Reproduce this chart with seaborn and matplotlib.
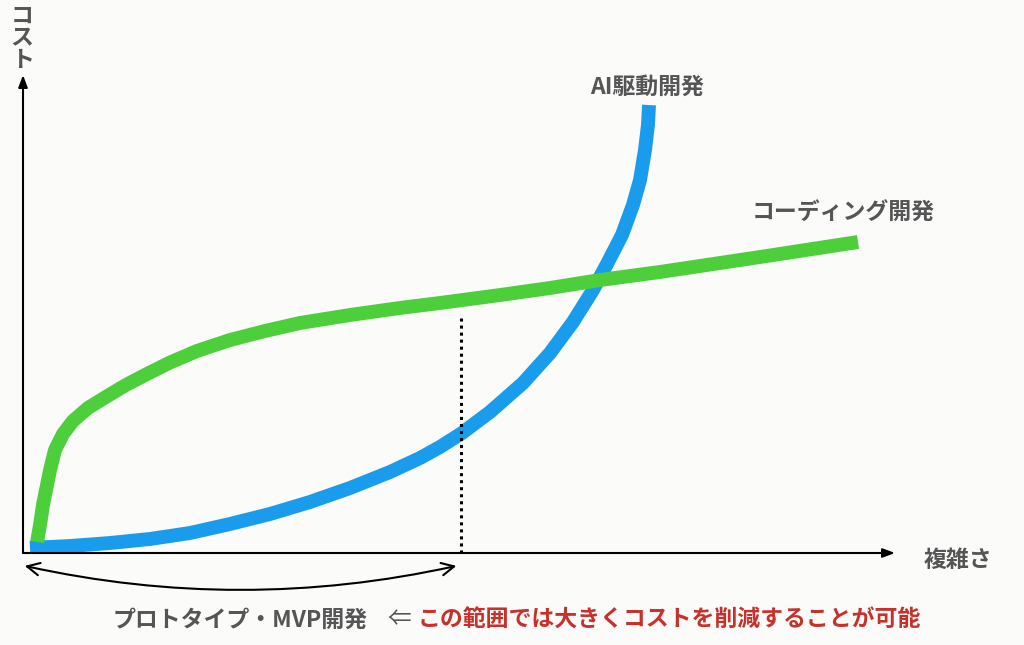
import matplotlib
matplotlib.use('Agg')

import seaborn as sns
import matplotlib.pyplot as plt

# complexity (x) / cost (y), axes run 0..100
ai_x = [0.80, 5.39, 9.98, 14.56, 19.15, 23.74, 28.33, 32.91, 37.50, 42.09,
        45.53, 47.82, 50.34, 53.56, 57.34, 60.44, 63.07, 65.37, 67.09, 68.69,
        69.95, 70.76, 71.33, 71.67, 71.79]
ai_y = [1.05, 1.46, 2.09, 2.93, 4.18, 6.07, 8.16, 10.67, 13.60, 16.95,
        19.87, 22.18, 25.10, 29.50, 35.56, 41.84, 48.33, 55.02, 60.88, 66.53,
        72.80, 78.03, 84.31, 89.54, 93.72]

coding_x = [1.61, 1.95, 2.29, 2.64, 3.10, 3.67, 4.59, 5.73, 7.45, 9.40,
            11.70, 14.22, 16.86, 19.95, 23.74, 27.75, 31.77, 37.50, 43.23,
            47.82, 54.70, 60.44, 66.17, 73.05, 84.52, 95.76]
coding_y = [2.30, 5.86, 10.04, 13.18, 17.36, 21.55, 24.90, 27.62, 30.33, 32.53,
            35.04, 37.45, 39.85, 42.26, 44.56, 46.44, 48.12, 49.79, 51.26,
            52.30, 53.97, 55.44, 57.11, 58.79, 61.92, 65.06]

ai_label = 'AI駆動開発'
coding_label = 'コーディング開発'
x_label = '複雑さ'
y_label = 'コスト'
range_label = 'プロトタイプ・MVP開発'
note_label = 'この範囲では大きくコストを削減することが可能'

mvp_limit = 50.2
mvp_top = 50.0

BLUE = '#1a9cec'
GREEN = '#4ccf3a'
GREY = '#555555'
RED = '#c8312b'
BG = '#fbfbfa'

if __name__ == "__main__":
    sns.set_theme(style='white')
    plt.rcParams['font.family'] = ['Noto Sans CJK JP', 'DejaVu Sans']

    fig = plt.figure(figsize=(10.24, 6.45), dpi=100, facecolor=BG)
    ax = fig.add_axes([23 / 1024, 92 / 645, 872 / 1024, 478 / 645])
    ax.set_facecolor(BG)
    ax.set_xlim(0, 100)
    ax.set_ylim(0, 100)
    for s in ax.spines.values():
        s.set_visible(False)
    ax.set_xticks([])
    ax.set_yticks([])

    line_kw = dict(ax=ax, estimator=None, sort=False, linewidth=10,
                   solid_capstyle='butt', solid_joinstyle='round')
    sns.lineplot(x=ai_x, y=ai_y, color=BLUE, **line_kw)
    sns.lineplot(x=coding_x, y=coding_y, color=GREEN, **line_kw)

    # dotted limit of the prototype range
    ax.vlines(mvp_limit, 0, mvp_top, colors='black', linewidth=2.2,
              linestyles=(0, (1, 1.3)))

    # axes with arrow heads
    axis_arrow = dict(arrowstyle='-|>,head_length=0.4,head_width=0.15',
                      color='black', lw=1.5, mutation_scale=18,
                      shrinkA=0, shrinkB=0)
    ax.annotate('', xy=(100, 0), xytext=(0, 0), arrowprops=axis_arrow,
                annotation_clip=False)
    ax.annotate('', xy=(0, 100), xytext=(0, 0), arrowprops=axis_arrow,
                annotation_clip=False)

    # curved double arrow under the prototype range
    ax.annotate('', xy=(mvp_limit - 0.5, -2.7), xytext=(0.2, -2.7),
                arrowprops=dict(arrowstyle='<->,head_length=0.5,head_width=0.25',
                                color='black', lw=1.5, mutation_scale=18,
                                shrinkA=0, shrinkB=0,
                                connectionstyle='arc3,rad=0.11'),
                annotation_clip=False)

    text_kw = dict(fontsize=16.5, fontweight='bold', color=GREY,
                   clip_on=False)
    ax.text(71.6, 97.5, ai_label, ha='center', va='center', **text_kw)
    ax.text(94.0, 71.1, coding_label, ha='center', va='center', **text_kw)
    ax.text(107.2, -1.5, x_label, ha='center', va='center', **text_kw)
    ax.text(-0.1, 107.7, '\n'.join(y_label), ha='center', va='center',
            linespacing=0.95, **text_kw)
    ax.text(24.9, -14.0, range_label, ha='center', va='center', **text_kw)
    ax.text(41.8, -14.0, '⇐', ha='left', va='center', fontsize=17,
            color=GREY, clip_on=False)
    ax.text(45.3, -14.0, note_label, ha='left', va='center', fontsize=16.5,
            fontweight='bold', color=RED, clip_on=False)

    plt.savefig('out.png', dpi=100, facecolor=BG)
